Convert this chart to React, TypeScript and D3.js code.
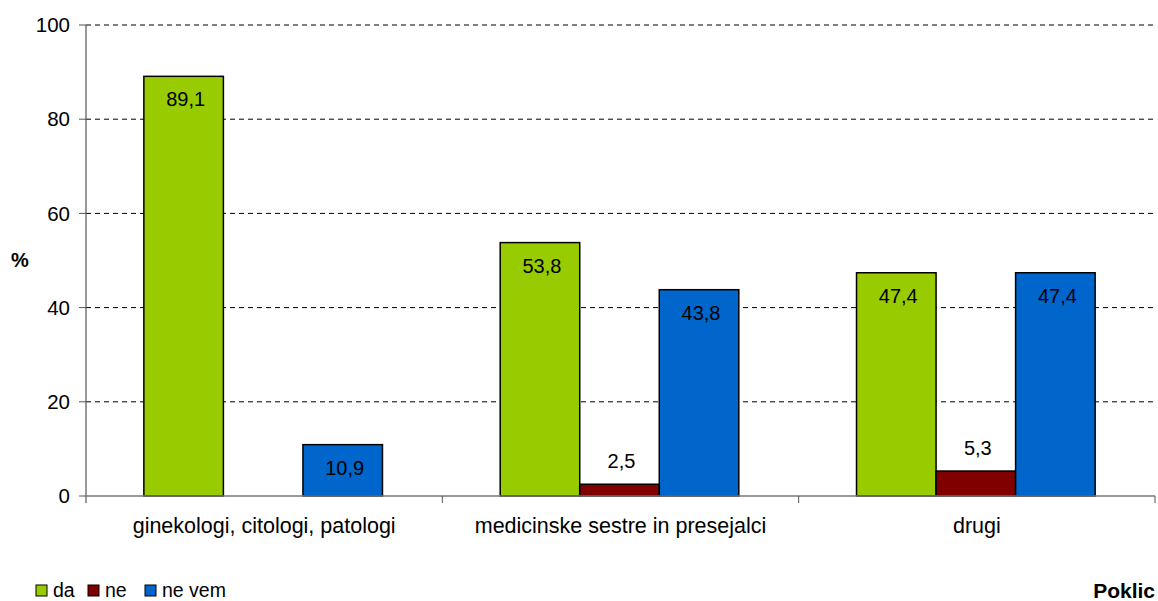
import React from "react";
import * as d3 from "d3";

const categories = ["ginekologi, citologi, patologi", "medicinske sestre in presejalci", "drugi"];
const seriesNames = ["da", "ne", "ne vem"];
const daValues: (number | null)[] = [89.1, 53.8, 47.4];
const neValues: (number | null)[] = [null, 2.5, 5.3];
const neVemValues: (number | null)[] = [10.9, 43.8, 47.4];
const yTicks = [0, 20, 40, 60, 80, 100];
const colors = ["#99CC00", "#800000", "#0066CC"];

const W = 1158, H = 601;
const left = 86, right = 1155, top = 25, bottom = 496;
const font = "Arial, 'Liberation Sans', sans-serif";
const FS = 20;

export default function App() {
  const series = [daValues, neValues, neVemValues];
  const x0 = d3.scaleBand<string>().domain(categories).range([left, right]).paddingInner(0).paddingOuter(0);
  const inner = d3.scaleBand<string>().domain(seriesNames).range([0, x0.bandwidth()]).paddingOuter(0.74).paddingInner(0);
  const y = d3.scaleLinear().domain([0, 100]).range([bottom, top]);
  const fmt = (v: number) => v.toFixed(1).replace(".", ",");

  return (
    <svg width={W} height={H} style={{ position: "absolute", left: 0, top: 0, background: "#fff" }} fontFamily={font}>
      {yTicks.filter(t => t > 0).map(t => (
        <line key={"g" + t} x1={left} x2={right} y1={y(t)} y2={y(t)} stroke="#000" strokeWidth={1} strokeDasharray="5,4" />
      ))}
      {categories.map((c, ci) =>
        series.map((s, si) => {
          const v = s[ci];
          if (v == null) return null;
          const bx = (x0(c) as number) + (inner(seriesNames[si]) as number) - 1;
          const bw = inner.bandwidth();
          const yt = y(v);
          const inside = bottom - yt > 30;
          return (
            <g key={ci + "-" + si}>
              <rect x={bx} y={yt} width={bw} height={bottom - yt} fill={colors[si]} stroke="#000" strokeWidth={1.5} />
              <text x={bx + bw / 2 + 2} y={inside ? yt + 30 : yt - 16} textAnchor="middle" fontSize={FS} fill="#000">{fmt(v)}</text>
            </g>
          );
        })
      )}
      <line x1={left} x2={left} y1={top} y2={bottom + 7} stroke="#555" strokeWidth={1.2} />
      <line x1={left} x2={right} y1={bottom} y2={bottom} stroke="#777" strokeWidth={1.5} />
      {yTicks.map(t => (
        <g key={"t" + t}>
          <line x1={left - 7} x2={left} y1={y(t)} y2={y(t)} stroke="#555" strokeWidth={1} />
          <text x={70} y={y(t)} dy="0.35em" textAnchor="end" fontSize={20.5} fill="#000">{t}</text>
        </g>
      ))}
      {categories.map((c, ci) => (
        <g key={"c" + ci}>
          <line x1={(x0(c) as number) + x0.bandwidth()} x2={(x0(c) as number) + x0.bandwidth()} y1={bottom} y2={bottom + 7} stroke="#555" strokeWidth={1} />
          <text x={(x0(c) as number) + x0.bandwidth() / 2} y={533} textAnchor="middle" fontSize={21.5} fill="#000">{c}</text>
        </g>
      ))}
      <text x={20} y={260} dy="0.35em" textAnchor="middle" fontSize={FS} fontWeight="bold">%</text>
      <text x={1155} y={598} textAnchor="end" fontSize={21} fontWeight="bold">Poklic</text>
      {(() => {
        const items = [36, 88, 145];
        return seriesNames.map((n, i) => (
          <g key={"l" + i}>
            <rect x={items[i]} y={585} width={11} height={11} fill={colors[i]} stroke="#000" strokeWidth={1} />
            <text x={items[i] + 17} y={597} fontSize={19.5} fill="#000">{n}</text>
          </g>
        ));
      })()}
    </svg>
  );
}
